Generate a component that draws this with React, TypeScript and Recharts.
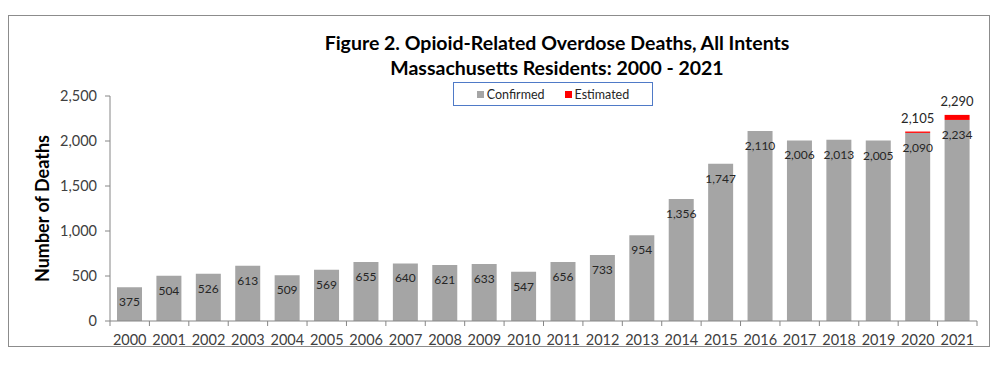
import React from 'react';
import { BarChart, Bar, XAxis, YAxis, LabelList } from 'recharts';

const years = ['2000','2001','2002','2003','2004','2005','2006','2007','2008','2009','2010','2011','2012','2013','2014','2015','2016','2017','2018','2019','2020','2021'];
const confirmed = [375,504,526,613,509,569,655,640,621,633,547,656,733,954,1356,1747,2110,2006,2013,2005,2090,2234];
const estimated: (number | null)[] = [null,null,null,null,null,null,null,null,null,null,null,null,null,null,null,null,null,null,null,null,15,56];
const yTicks = [0,500,1000,1500,2000,2500];

const data = years.map((y, i) => ({
  year: y,
  confirmed: confirmed[i],
  estimated: estimated[i],
  estTotal: estimated[i] == null ? null : confirmed[i] + (estimated[i] as number),
}));

const W = 980;
const H = 350;
const FRAME_H = 330;
const margin = { top: 80, right: 12, left: 0, bottom: 20 };
const yAxisW = 101;
const xAxisH = 25;
const plotLeft = margin.left + yAxisW;
const plotRight = W - margin.right;
const plotBottom = H - margin.bottom - xAxisH;
const catW = (plotRight - plotLeft) / years.length;
const FONT = 'Lato, "Open Sans", sans-serif';
const fmt = (v: number) => v.toLocaleString('en-US');

const XTick = (props: any) => {
  const { x, payload, index } = props;
  return (
    <g>
      <line x1={x - catW / 2} x2={x - catW / 2} y1={plotBottom} y2={plotBottom + 5} stroke="#868686" />
      {index === years.length - 1 && (
        <line x1={x + catW / 2} x2={x + catW / 2} y1={plotBottom} y2={plotBottom + 5} stroke="#868686" />
      )}
      <text x={x} y={plotBottom + 24} textAnchor="middle" fontSize={14.5} fill="#404040" fontFamily={FONT}>
        {payload.value}
      </text>
    </g>
  );
};

const ConfLabel = (props: any) => {
  const { x, y, width, value } = props;
  return (
    <text x={x + width / 2} y={y + 19} textAnchor="middle" fontSize={12} fill="#262626" fontFamily={FONT}>
      {fmt(value)}
    </text>
  );
};

const EstLabel = (props: any) => {
  const { x, y, width, value } = props;
  if (value == null) return null;
  return (
    <text x={x + width / 2} y={y - 9} textAnchor="middle" fontSize={13} fill="#262626" fontFamily={FONT}>
      {fmt(value)}
    </text>
  );
};

const YLabel = () => {
  const cx = 33;
  const cy = margin.top + (plotBottom - margin.top) / 2;
  return (
    <text x={cx} y={cy} transform={`rotate(-90, ${cx}, ${cy})`} textAnchor="middle" dominantBaseline="central"
      fontSize={18} fontWeight="bold" fill="#000" fontFamily={FONT}>
      Number of Deaths
    </text>
  );
};

export default function App() {
  return (
    <div style={{ position: 'relative', width: W + 2, height: FRAME_H + 2, marginTop: 7, fontFamily: FONT }}>
      <div style={{ position: 'absolute', left: 0, top: 0, width: W, height: FRAME_H, border: '1px solid #8c8c8c', pointerEvents: 'none' }} />
      <div style={{ position: 'absolute', left: 129, top: 15, width: 840, textAlign: 'center', fontWeight: 'bold', fontSize: 19.5, lineHeight: '25px', color: '#000' }}>
        <div>Figure 2. Opioid-Related Overdose Deaths, All Intents</div>
        <div>Massachusetts Residents: 2000 - 2021</div>
      </div>
      <div style={{ position: 'absolute', left: 445, top: 67, width: 198, height: 22, border: '1px solid #4f7ac7', display: 'flex', alignItems: 'center', justifyContent: 'center', fontSize: 12.5, color: '#262626', zIndex: 2, background: '#fff' }}>
        <span style={{ display: 'inline-block', width: 7, height: 7, background: '#A5A5A5', marginRight: 3 }} />
        <span style={{ marginRight: 20 }}>Confirmed</span>
        <span style={{ display: 'inline-block', width: 7, height: 7, background: '#FF0000', marginRight: 3 }} />
        <span>Estimated</span>
      </div>
      <div style={{ position: 'absolute', left: 1, top: 1 }}>
        <BarChart width={W} height={H} data={data} margin={margin}>
          <XAxis dataKey="year" height={xAxisH} tickLine={false} axisLine={{ stroke: '#868686' }} tick={<XTick />} interval={0} />
          <YAxis width={yAxisW} domain={[0, 2500]} ticks={yTicks} tickFormatter={fmt} tickSize={5}
            tick={{ fontSize: 14.5, fill: '#404040', fontFamily: FONT }} tickMargin={8}
            axisLine={{ stroke: '#868686' }} tickLine={{ stroke: '#868686' }} label={<YLabel />} />
          <Bar dataKey="confirmed" stackId="a" fill="#A5A5A5" barSize={25} isAnimationActive={false}>
            <LabelList dataKey="confirmed" content={<ConfLabel />} />
          </Bar>
          <Bar dataKey="estimated" stackId="a" fill="#FF0000" barSize={25} isAnimationActive={false}>
            <LabelList dataKey="estTotal" content={<EstLabel />} />
          </Bar>
        </BarChart>
      </div>
    </div>
  );
}
